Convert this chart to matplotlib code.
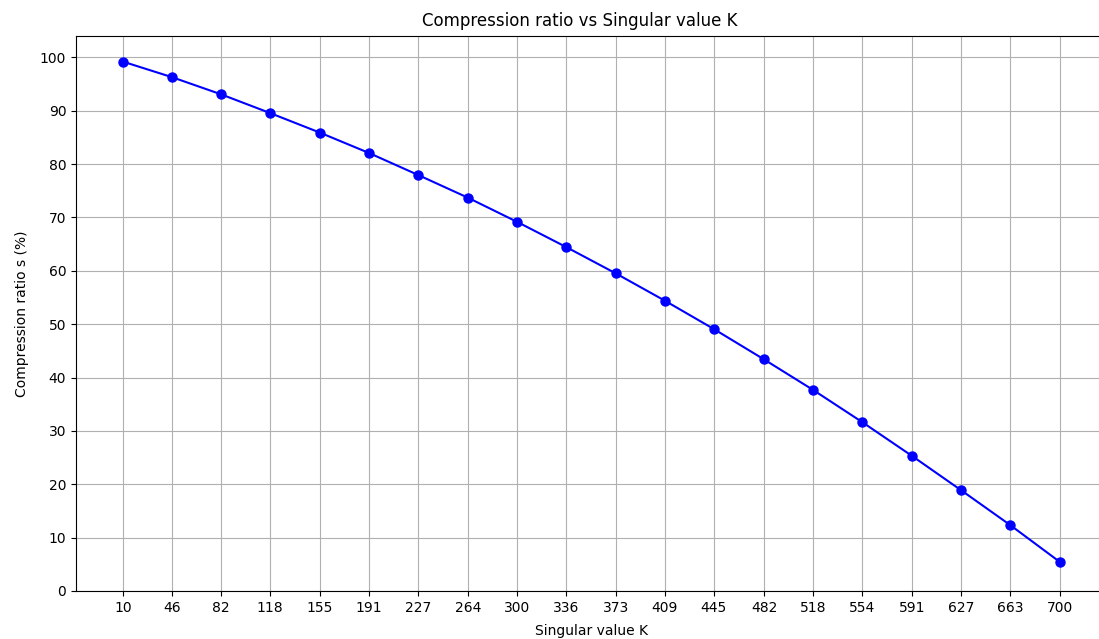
import numpy as np
import matplotlib
matplotlib.use('Agg')
import matplotlib.pyplot as plt

k_values = [10, 46, 82, 118, 155, 191, 227, 264, 300, 336,
            373, 409, 445, 482, 518, 554, 591, 627, 663, 700]
ratios = [99.2, 96.3, 93.1, 89.6, 85.9, 82.1, 78.0, 73.7, 69.2, 64.5,
          59.5, 54.4, 49.1, 43.4, 37.7, 31.7, 25.3, 18.9, 12.4, 5.4]

fig = plt.figure(figsize=(10.99, 6.39), dpi=100)
# axes runs a little past the right edge of the canvas
ax = fig.add_axes([76/1099, 48/639, 1031/1099, 555/639])
ax.plot(k_values, ratios, marker='o', markersize=6.5, color='blue')
ax.set_title('Compression ratio vs Singular value K', x=0.489, pad=7.5)
ax.set_xlabel('Singular value K', labelpad=7)
ax.set_ylabel('Compression ratio s (%)', labelpad=8)
ax.set_xticks(k_values)
ax.set_yticks(np.arange(0, 101, 10))
ax.set_ylim(0, 104)
plt.grid(True)
plt.savefig('out.png')
